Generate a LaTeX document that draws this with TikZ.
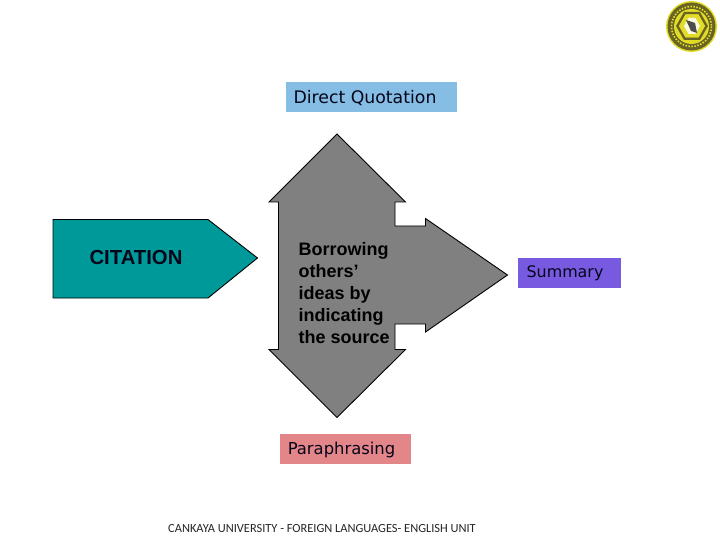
\documentclass[tikz,border=0pt]{standalone}
\usepackage{fontspec}
\setmainfont{Liberation Sans}
\newfontfamily\labelfont{DejaVu Sans}
\newfontfamily\footfont{Carlito}
\usetikzlibrary{shapes.geometric}
\definecolor{teal1}{RGB}{0,153,153}
\definecolor{grey1}{RGB}{128,128,128}
\definecolor{blue1}{RGB}{133,189,228}
\definecolor{violet1}{RGB}{120,90,225}
\definecolor{rose1}{RGB}{226,134,138}
\definecolor{ink}{RGB}{5,5,25}
\definecolor{logoY}{RGB}{226,220,40}
\definecolor{logoD}{RGB}{105,100,35}
\tikzset{
  shapeline/.style={draw=black,line width=0.9pt,line join=miter},
  tagbox/.style={anchor=center,inner sep=0pt,text=ink},
  boldtext/.style={inner sep=0pt,text=black}
}
\begin{document}
\begin{tikzpicture}[x=1pt,y=-1pt]
\useasboundingbox[fill=white] (0,0) rectangle (720,540);
% logo
\fill[logoY] (691.5,26.5) circle (25.5);
\fill[logoD] (691.5,26.5) circle (24);
\draw[logoY,line width=1.6pt,dash pattern=on 1.5pt off 1.5pt] (691.5,26.5) circle (20);
\fill[logoY] (691.5,26.5) circle (17.5);
\fill[logoD,even odd rule] (708,26)--(700,12)--(684,12)--(676,26)--(684,40)--(700,40)--cycle
   (705,26)--(698.5,14.5)--(685.5,14.5)--(679,26)--(685.5,37.5)--(698.5,37.5)--cycle;
\fill[logoY] (705,26)--(698.5,14.5)--(685.5,14.5)--(679,26)--(685.5,37.5)--(698.5,37.5)--cycle;
\fill[white!85!logoY] (700,26)--(695.5,18)--(688.5,18)--(684,26)--(688.5,34)--(695.5,34)--cycle;
\fill[black!70] (686,20) -- (695,23) -- (697,33) -- (691,31) -- cycle;
% teal arrow
\filldraw[shapeline,fill=teal1] (53,219.5) -- (208,219.5) -- (257.5,258) -- (208,298) -- (53,298) -- cycle;
\node[boldtext,anchor=center,text=ink,font=\bfseries\fontsize{20.3}{24}\selectfont] (citation) at (136,258) {CITATION};
% grey arrow
\filldraw[shapeline,fill=grey1] (337,134) -- (405.5,202) -- (395,202) -- (395,226) -- (425.5,226) -- (425.5,218.5)
  -- (507.5,275) -- (425.5,332) -- (425.5,324) -- (395,324) -- (395,349.5) -- (405.5,349.5)
  -- (337,417.5) -- (269,349.5) -- (278.5,349.5) -- (278.5,202) -- (269,202) -- cycle;
\node[boldtext,anchor=north west,align=left,font=\bfseries\fontsize{18}{22}\selectfont] (borrow) at (298.5,242.5) {Borrowing\\others’\\ideas by\\indicating\\the source};
% tags
\fill[blue1] (286,82) rectangle (457,112);
\node[tagbox,font=\labelfont\fontsize{17.3}{20}\selectfont] (direct) at (365,98) {Direct Quotation};
\fill[violet1] (518,258) rectangle (621,288);
\node[tagbox,font=\labelfont\fontsize{15.9}{18}\selectfont] (summary) at (565,273.5) {Summary};
\fill[rose1] (280,434) rectangle (411,464);
\node[tagbox,font=\labelfont\fontsize{16.4}{18}\selectfont] (para) at (341.5,449.5) {Paraphrasing};
% footer
\node[inner sep=0pt,text=black!85,font=\footfont\fontsize{12.4}{15}\selectfont] (foot) at (322,528.5) {CANKAYA UNIVERSITY - FOREIGN LANGUAGES- ENGLISH UNIT};
\end{tikzpicture}
\end{document}
